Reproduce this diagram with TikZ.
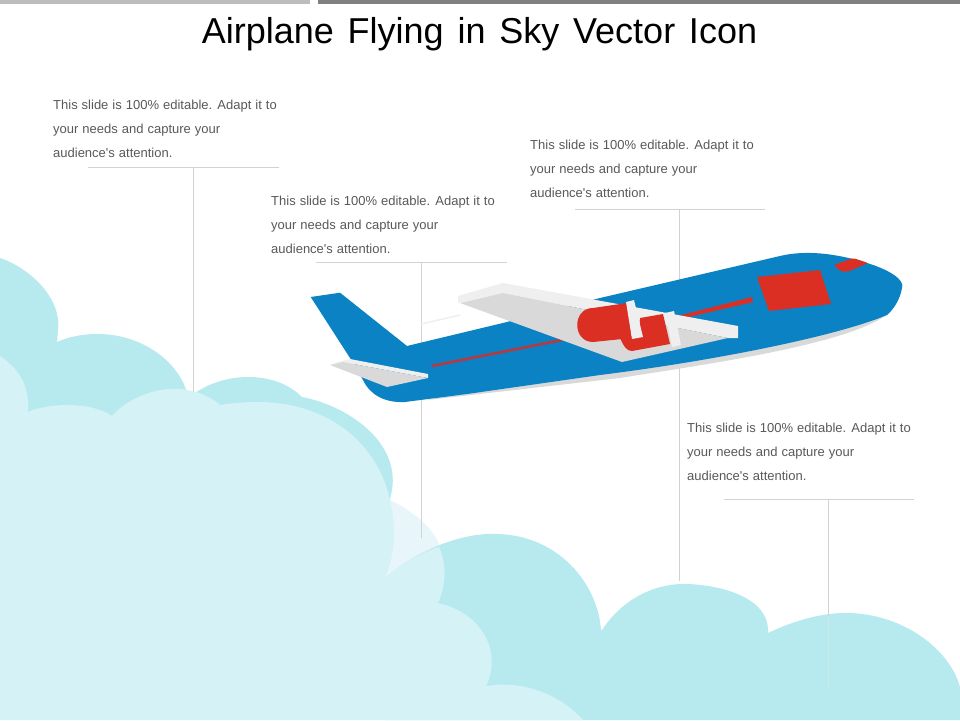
\documentclass[tikz,border=0pt]{standalone}
\usepackage{fontspec}
\setmainfont{Liberation Sans}[Ligatures=TeXOff]
\definecolor{cback}{HTML}{B7EAEF}
\definecolor{cfront}{HTML}{D5F3F6}
\definecolor{cpale}{HTML}{E8F6FC}
\definecolor{cblue}{HTML}{0A82C4}
\definecolor{cred}{HTML}{DC2F24}
\definecolor{cstripe}{HTML}{B8393F}
\definecolor{cgrey}{HTML}{D9D9D9}
\definecolor{clight}{HTML}{EFEFEF}
\definecolor{crule}{HTML}{D2D2D2}
\definecolor{ctext}{HTML}{595959}
\newcommand{\bodyfont}{\fontsize{13}{24}\selectfont}
\newcommand{\headfont}{\fontsize{36}{40}\selectfont}
\tikzset{
  body/.style={font=\bodyfont,text=ctext,anchor=north west,inner sep=0pt,align=left},
  heading/.style={anchor=base,inner sep=0pt,font=\headfont,text=black},
  leader/.style={draw=crule,line width=0.9pt},
  leaderfaint/.style={draw=cfront!60!crule,line width=0.9pt}
}
\newcommand{\slidetext}{\spaceskip=4pt\relax This slide is 100\% editable. Adapt it to\\\spaceskip=4pt\relax your needs and capture your\\\spaceskip=4pt\relax audience's attention.}
\begin{document}
\begin{tikzpicture}[x=1pt,y=-1pt]
\useasboundingbox (0,0) rectangle (960,720);
\fill[white] (0,0) rectangle (960,720);
% top bars
\fill[black!26] (0,0) rectangle (310,4);
\fill[black!50] (318,0) rectangle (960,4);
\node[heading] (title) at (479.5,43) {\spaceskip=13.8pt\relax Airplane Flying in Sky Vector Icon};
% clouds
\fill[cpale] (385,500) -- (390,500) .. controls (415,512) and (435,530) .. (440,547) -- (445,580) -- (385,580) -- cycle;
\fill[cback] (0,258) .. controls (25,266) and (62,295) .. (58,330) -- (57,342)
  .. controls (70,336) and (85,334) .. (98,334)
  .. controls (140,334) and (178,360) .. (187,393) -- (195,393)
  .. controls (225,372) and (275,370) .. (302,397)
  .. controls (345,405) and (400,440) .. (392,490) -- (390,500)
  -- (380,560) -- (0,560) -- cycle;
\fill[cback] (385,578) .. controls (420,548) and (465,532) .. (498,534)
  .. controls (560,536) and (598,585) .. (601,630) -- (602,630)
  .. controls (625,595) and (660,583) .. (687,584)
  .. controls (720,585) and (770,597) .. (768,633)
  .. controls (795,620) and (825,612) .. (850,613)
  .. controls (905,615) and (950,650) .. (960,687)
  -- (960,720) -- (385,720) -- cycle;
% leaders
\coordinate (a1) at (88,167); \coordinate (a2) at (279,167); \coordinate (a3) at (193,167); \coordinate (a4) at (193,398);
\coordinate (b1) at (316,262); \coordinate (b2) at (507,262); \coordinate (b3) at (421,262); \coordinate (b4) at (421,538);
\coordinate (c1) at (575,209); \coordinate (c2) at (765,209); \coordinate (c3) at (679.5,209); \coordinate (c4) at (679.5,581);
\coordinate (d1) at (724,499); \coordinate (d2) at (914,499); \coordinate (d3) at (828,499); \coordinate (d4) at (828,616); \coordinate (d5) at (828,688);
\draw[leader] (a1) -- (a2); \draw[leader] (a3) -- (a4);
\draw[leader] (b1) -- (b2); \draw[leader] (b3) -- (b4);
\draw[leader] (c1) -- (c2); \draw[leader] (c3) -- (c4);
\draw[leader] (d1) -- (d2); \draw[leader] (d3) -- (d4); \draw[leaderfaint] (d4) -- (d5);
% front cloud
\fill[cfront] (0,356) .. controls (18,368) and (30,385) .. (28,412)
  .. controls (45,404) and (88,400) .. (112,416)
  .. controls (130,395) and (165,385) .. (187,390)
  .. controls (200,392) and (212,398) .. (220,405)
  .. controls (232,403) and (245,402) .. (257,402)
  .. controls (330,402) and (378,445) .. (390,500)
  .. controls (397,530) and (395,555) .. (385,578)
  .. controls (400,565) and (420,553) .. (439,547)
  .. controls (447,565) and (446,585) .. (438,603)
  .. controls (480,612) and (503,650) .. (486,686)
  .. controls (525,680) and (560,695) .. (583,720)
  -- (0,720) -- cycle;
% faint line
\draw[clight,line width=1.5pt] (421,324) -- (460,315);
% plane belly
\fill[cgrey] (427,400) -- (620,378) .. controls (700,365) and (850,345) .. (889,313) -- (800,330) -- (500,380) -- cycle;
% plane body
\fill[cblue] (310.7,297) -- (340,292.7) -- (407,346) -- (507,322) -- (600,298) -- (780,256)
  .. controls (805,250) and (835,253) .. (867,263)
  .. controls (890,270) and (905,280) .. (902,288)
  .. controls (900,300) and (893,310) .. (887,315)
  .. controls (840,335) and (720,360) .. (600,375)
  -- (467,394) -- (405,402) .. controls (385,403) and (370,395) .. (363,380)
  -- (350,358) -- cycle;
% stripe
\draw[cstripe,line width=2.6pt] (431.7,366) -- (562,340);
\fill[cred] (670,318) -- (752,297) -- (753,302) -- (680,319) -- cycle;
% tailplane
\fill[clight] (330,364) -- (350,359) -- (428,374) -- (428,378) -- (343,362) -- cycle;
\fill[cgrey] (330,365) -- (343,362) -- (428,378) -- (387,387) -- cycle;
% wing
\fill[clight] (458,296) -- (503,283) -- (738,326) -- (738,338) -- (728,338) -- (503,293) -- (458,303) -- cycle;
\fill[cgrey] (460,303) -- (503,293) -- (728,338) -- (622,362) -- cycle;
% engines
\fill[cred] (593,308) -- (627,303) -- (632,338) -- (593,342) .. controls (572,342) and (572,308) .. (593,308) -- cycle;
\fill[cred] (640,318) -- (663,314) -- (670,344) -- (632,351) .. controls (627,351) and (624,347) .. (620,338) -- (640,336) -- cycle;
\fill[clight] (626,302) -- (634,300) -- (643,337) -- (632,339) -- cycle;
\fill[clight] (665,313) -- (674,311) -- (681,345) -- (672,347) -- cycle;
% windows
\fill[cred] (757,277) -- (820,270) -- (831,304) -- (769,311) -- cycle;
\fill[cred,rounded corners=2pt] (834,265) -- (853,258) -- (868,263) -- (847,272) -- (840,271) -- cycle;
% text
\node[body] (t1) at (53,100) {\slidetext};
\node[body] (t2) at (271,196) {\slidetext};
\node[body] (t3) at (530,140) {\slidetext};
\node[body] (t4) at (687,423) {\slidetext};
\end{tikzpicture}
\end{document}
